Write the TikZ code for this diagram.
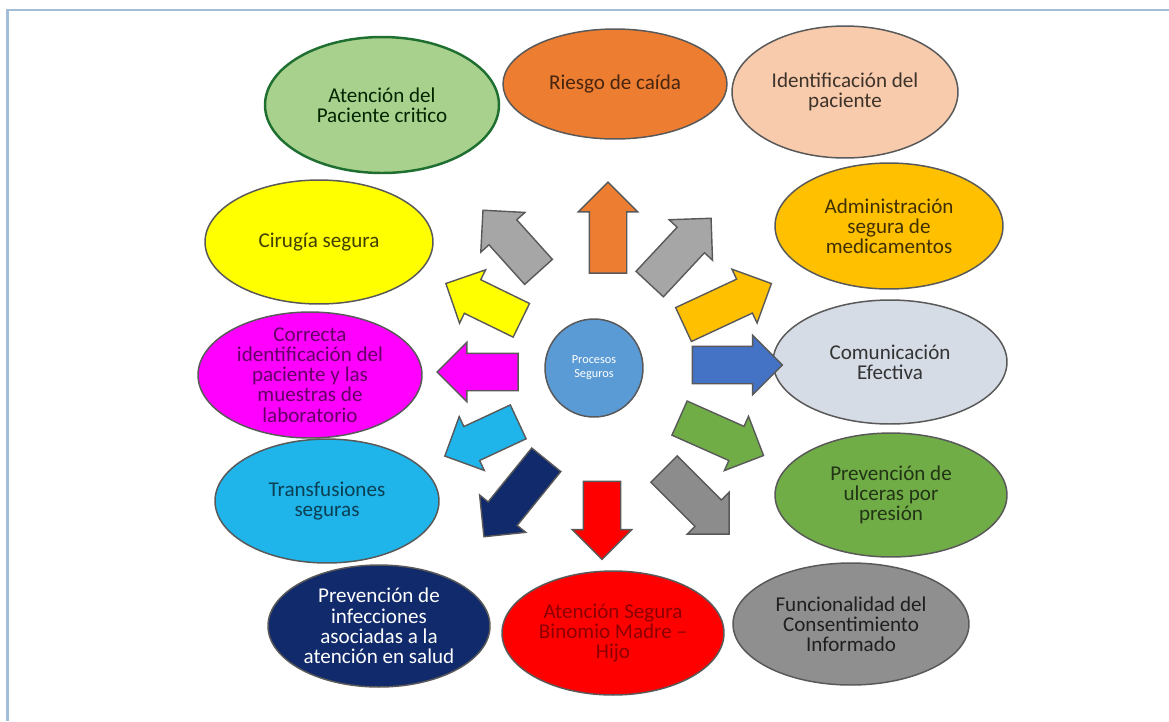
\documentclass[tikz,border=0pt]{standalone}
\usepackage{fontspec}
\setmainfont{Carlito}
\usetikzlibrary{shapes.geometric,shapes.arrows}

\definecolor{bordc}{HTML}{595959}
\definecolor{framec}{HTML}{A3BDD8}
\definecolor{critc}{HTML}{A9D18E}
\definecolor{critb}{HTML}{1F6F30}
\definecolor{caidac}{HTML}{ED7D31}
\definecolor{identc}{HTML}{F8CBAD}
\definecolor{adminc}{HTML}{FFC000}
\definecolor{comunc}{HTML}{D6DCE5}
\definecolor{ulcc}{HTML}{70AD47}
\definecolor{consc}{HTML}{8F8F8F}
\definecolor{binc}{HTML}{FF0000}
\definecolor{infc}{HTML}{102A6B}
\definecolor{transc}{HTML}{1FB4EA}
\definecolor{corrc}{HTML}{FF00FF}
\definecolor{circ}{HTML}{FFFF00}
\definecolor{centc}{HTML}{5B9BD5}
\definecolor{grayc}{HTML}{A6A6A6}
\definecolor{darkgrayc}{HTML}{8C8C8C}
\definecolor{bluec}{HTML}{4472C4}

\begin{document}
\begin{tikzpicture}[
  x=0.02cm,y=-0.02cm,
  bubble/.style={ellipse,draw=bordc,line width=0.85pt,inner sep=0pt},
  txt/.style={align=center,font=\fontsize{12}{11.5}\selectfont},
  blk/.style={single arrow,draw=bordc,line width=0.8pt,inner sep=0pt,
    inner ysep=0.36cm,single arrow head extend=0.22cm}
]
\useasboundingbox (0,0) rectangle (1169,721);
\draw[framec,line width=1.2pt] (7.5,721) -- (7.5,10) -- (1169,10);

% outer ring
\node[bubble,fill=critc,draw=critb,line width=1.4pt,minimum width=4.68cm,minimum height=2.72cm] (crit) at (382,105) {};
\node[bubble,fill=caidac,minimum width=4.48cm,minimum height=2.2cm] (caida) at (615,84) {};
\node[bubble,fill=identc,minimum width=4.52cm,minimum height=2.64cm] (ident) at (845,92) {};
\node[bubble,fill=adminc,minimum width=4.56cm,minimum height=2.52cm] (admin) at (889,226) {};
\node[bubble,fill=comunc,minimum width=4.68cm,minimum height=2.48cm] (comun) at (890,362) {};
\node[bubble,fill=ulcc,minimum width=4.64cm,minimum height=2.48cm] (ulc) at (891,495) {};
\node[bubble,fill=consc,minimum width=4.72cm,minimum height=2.44cm] (cons) at (851,624) {};
\node[bubble,fill=binc,minimum width=4.44cm,minimum height=2.48cm] (bin) at (613,633) {};
\node[bubble,fill=infc,minimum width=4.44cm,minimum height=2.44cm] (inf) at (379,626) {};
\node[bubble,fill=transc,minimum width=4.48cm,minimum height=2.48cm] (trans) at (327,501) {};
\node[bubble,fill=corrc,minimum width=4.48cm,minimum height=2.52cm] (corr) at (310,375) {};
\node[bubble,fill=circ,minimum width=4.56cm,minimum height=2.48cm] (cir) at (319,242) {};

\node[txt,text=black!85!green] (t-crit) at (crit) {Atención del\\Paciente critico};
\node[txt,text=caidac!30!black] (t-caida) at (caida) {Riesgo de caída};
\node[txt,text=identc!25!black] (t-ident) at (ident) {Identificación del\\paciente};
\node[txt,text=adminc!25!black] (t-admin) at (admin) {Administración\\segura de\\medicamentos};
\node[txt,text=black!80] (t-comun) at (comun) {Comunicación\\Efectiva};
\node[txt,text=ulcc!30!black] (t-ulc) at (ulc) {Prevención de\\ulceras por\\presión};
\node[txt,text=black!88] (t-cons) at (cons) {Funcionalidad del\\Consentimiento\\Informado};
\node[txt,text=binc!55!black] (t-bin) at (bin) {Atención Segura\\Binomio Madre –\\Hijo};
\node[txt,text=white] (t-inf) at (inf) {Prevención de\\infecciones\\asociadas a la\\atención en salud};
\node[txt,text=transc!35!black] (t-trans) at (trans) {Transfusiones\\seguras};
\node[txt,text=corrc!40!black] (t-corr) at (corr) {Correcta\\identificación del\\paciente y las\\muestras de\\laboratorio};
\node[txt,text=circ!25!black] (t-cir) at (cir) {Cirugía segura};

% centre
\node[circle,draw=bordc,line width=0.85pt,fill=centc,minimum size=1.96cm,inner sep=0pt,
  text=white,align=center,font=\fontsize{7}{8}\selectfont] (proc) at (594,368) {Procesos\\Seguros};

% block arrows
\node[blk,fill=caidac,rotate=90,minimum height=1.82cm] (a-caida) at (608,237) {};
\node[blk,fill=grayc,rotate=47,minimum height=1.8cm] (a-ne) at (674,258) {};
\node[blk,fill=grayc,rotate=132,minimum height=1.66cm] (a-nw) at (517,248) {};
\node[blk,fill=circ,rotate=154,minimum height=1.68cm] (a-cir) at (492,306) {};
\node[blk,fill=adminc,rotate=25,minimum height=1.94cm] (a-admin) at (719,308) {};
\node[blk,fill=corrc,rotate=180,minimum height=1.62cm] (a-corr) at (487,372) {};
\node[blk,fill=bluec,minimum height=1.8cm] (a-comun) at (728,365) {};
\node[blk,fill=transc,rotate=205,minimum height=1.62cm] (a-trans) at (490,435) {};
\node[blk,fill=infc,rotate=231,minimum height=1.98cm] (a-inf) at (521,491) {};
\node[blk,fill=binc,rotate=270,minimum height=1.56cm] (a-bin) at (602,511) {};
\node[blk,fill=darkgrayc,rotate=315,minimum height=1.84cm] (a-se) at (690,495) {};
\node[blk,fill=ulcc,rotate=336,minimum height=1.84cm] (a-ulc) at (713,433) {};
\end{tikzpicture}
\end{document}
